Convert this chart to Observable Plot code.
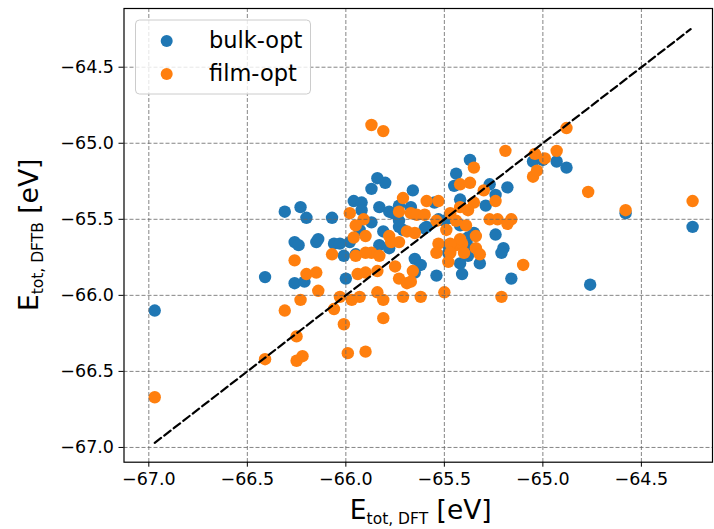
<!DOCTYPE html>
<html>
<head>
<meta charset="utf-8">
<script src="https://cdn.jsdelivr.net/npm/d3@7"></script>
<script src="https://cdn.jsdelivr.net/npm/@observablehq/plot@0.6"></script>
<style>
  html, body { margin: 0; padding: 0; background: #fff; }
  #chart { width: 714px; height: 529px; }
  svg { font-family: "DejaVu Sans", sans-serif; }
</style>
</head>
<body>
<div id="chart"></div>
<script>
// ---- data ----
const seriesNames = ["bulk-opt", "film-opt"];
const seriesColors = ["#1f77b4", "#ff7f0e"];

const bulkX = [-66.97,-66.41,-66.31,-66.23,-66.20,-66.07,-65.96,-65.92,-66.26,-66.24,-66.15,-66.14,-66.06,-66.03,-66.01,-66.26,-66.21,-66.00,-65.87,-65.84,-65.80,-65.66,-65.83,-65.78,-65.73,-65.87,-65.73,-65.81,-65.93,-65.76,-65.71,-65.67,-65.65,-65.62,-65.54,-65.98,-65.95,-65.92,-65.59,-65.47,-65.48,-65.53,-65.78,-65.83,-65.55,-65.44,-65.37,-65.45,-65.42,-65.27,-65.24,-65.18,-65.29,-65.05,-65.00,-64.93,-64.88,-64.58,-64.24,-65.50,-65.60,-65.42,-65.35,-65.24,-65.65,-65.48,-65.42,-65.41,-65.32,-65.38,-65.20,-65.21,-65.16,-64.76,-65.38,-65.38,-65.73];
const bulkY = [-66.10,-65.88,-65.45,-65.42,-65.49,-65.49,-65.38,-65.39,-65.65,-65.67,-65.65,-65.63,-65.66,-65.66,-65.74,-65.92,-65.91,-65.89,-65.30,-65.23,-65.26,-65.31,-65.42,-65.45,-65.41,-65.52,-65.55,-65.58,-65.57,-65.46,-65.57,-65.42,-65.76,-65.80,-65.87,-65.65,-65.73,-65.44,-65.55,-65.49,-65.67,-65.50,-65.69,-65.67,-65.39,-65.20,-65.11,-65.28,-65.37,-65.27,-65.34,-65.29,-65.41,-65.12,-65.11,-65.12,-65.16,-65.46,-65.55,-65.51,-65.56,-65.54,-65.59,-65.60,-65.85,-65.72,-65.79,-65.86,-65.79,-65.74,-65.69,-65.72,-65.89,-65.93,-65.68,-65.62,-65.51];

const filmX = [-66.97,-66.41,-66.31,-66.26,-66.20,-66.15,-66.14,-66.23,-66.25,-66.25,-66.22,-66.07,-66.06,-66.03,-66.01,-65.99,-65.90,-65.96,-65.95,-65.94,-65.90,-65.87,-65.83,-65.84,-65.97,-65.93,-65.84,-65.81,-65.81,-65.75,-65.73,-65.69,-65.71,-65.66,-65.90,-65.78,-65.73,-65.69,-65.65,-65.87,-65.81,-65.71,-65.73,-65.98,-65.91,-65.95,-65.67,-65.19,-64.88,-65.04,-64.99,-64.93,-65.05,-65.03,-65.35,-65.42,-65.37,-65.30,-65.59,-65.53,-65.24,-65.42,-65.35,-65.38,-65.47,-64.77,-64.58,-64.24,-65.27,-65.23,-65.16,-65.18,-65.64,-65.60,-65.54,-65.44,-65.49,-65.34,-65.62,-65.50,-65.21,-65.10,-65.67,-65.53,-65.54,-65.44,-65.41,-65.40,-65.34,-65.32,-65.42,-65.39,-65.47,-65.90,-65.77,-65.47,-65.48];
const filmY = [-66.67,-66.42,-66.10,-65.77,-65.86,-65.85,-65.97,-66.03,-66.27,-66.43,-66.40,-65.73,-66.09,-66.01,-66.19,-66.38,-66.37,-65.62,-65.74,-65.86,-65.85,-65.72,-65.74,-65.84,-66.03,-66.01,-65.98,-66.03,-66.15,-65.81,-65.89,-65.92,-66.01,-65.84,-65.61,-65.61,-65.65,-65.58,-65.59,-64.88,-64.92,-65.36,-65.45,-65.46,-65.50,-65.54,-65.46,-65.05,-64.90,-65.07,-65.10,-65.05,-65.22,-65.18,-65.16,-65.27,-65.26,-65.31,-65.38,-65.38,-65.38,-65.42,-65.39,-65.44,-65.46,-65.32,-65.44,-65.38,-65.50,-65.50,-65.50,-65.53,-65.47,-65.47,-65.51,-65.51,-65.57,-65.61,-66.01,-65.98,-66.01,-65.80,-65.91,-65.66,-65.72,-65.67,-65.66,-65.72,-65.69,-65.73,-65.63,-65.54,-65.66,-65.72,-65.65,-65.72,-65.78];

const diagLine = [-66.97, -64.25];              // y = x reference line, from min to max DFT energy
const xTicks = [-67.0, -66.5, -66.0, -65.5, -65.0, -64.5];
const yTicks = [-67.0, -66.5, -66.0, -65.5, -65.0, -64.5];
const xDomain = [-67.126, -64.139];
const yDomain = [-67.097, -64.114];

// ---- build tables ----
const bulk = bulkX.map((x, i) => ({x, y: bulkY[i], s: seriesNames[0]}));
const film = filmX.map((x, i) => ({x, y: filmY[i], s: seriesNames[1]}));
const fmt = d3.format(".1f");

const W = 714, H = 529;
const mL = 123.5, mR = 2, mT = 8, mB = 67.3;

const plot = Plot.plot({
  width: W, height: H,
  marginLeft: mL, marginRight: mR, marginTop: mT, marginBottom: mB,
  style: {fontFamily: "DejaVu Sans, sans-serif", fontSize: "17.5px", color: "#000", background: "#fff"},
  x: {domain: xDomain, ticks: xTicks},
  y: {domain: yDomain, ticks: yTicks},
  marks: [
    Plot.dot(bulk, {x: "x", y: "y", r: 6.2, fill: seriesColors[0], stroke: "none"}),
    Plot.dot(film, {x: "x", y: "y", r: 6.2, fill: seriesColors[1], stroke: "none"}),
    Plot.gridX(xTicks, {stroke: "#666", strokeOpacity: 0.8, strokeWidth: 1, strokeDasharray: "4,2"}),
    Plot.gridY(yTicks, {stroke: "#666", strokeOpacity: 0.8, strokeWidth: 1, strokeDasharray: "4,2"}),
    Plot.line(diagLine, {x: d => d, y: d => d, stroke: "#000", strokeWidth: 2.2, strokeDasharray: "8,4"}),
    Plot.frame({stroke: "#000", strokeWidth: 1.2}),
    Plot.axisX(xTicks, {tickFormat: fmt, tickSize: 5, tickPadding: 5, fontSize: 17.5, label: null}),
    Plot.axisY(yTicks, {tickFormat: fmt, tickSize: 5, tickPadding: 5, fontSize: 17.5, label: null})
  ]
});
document.getElementById("chart").appendChild(plot);

// ---- axis titles with subscripts, and legend ----
const svg = d3.select(plot);
const xl = svg.append("text")
  .attr("x", (mL + W - mR) / 2 + 3).attr("y", 519)
  .attr("text-anchor", "middle")
  .style("font-size", "26.5px").style("fill", "#000");
xl.append("tspan").text("E");
xl.append("tspan").attr("dy", 5).style("font-size", "15.5px").text("tot, DFT");
xl.append("tspan").attr("dy", -5).text(" [eV]");

const yl = svg.append("text")
  .attr("transform", `translate(38,${(mT + H - mB) / 2}) rotate(-90)`)
  .attr("text-anchor", "middle")
  .style("font-size", "26.5px").style("fill", "#000");
yl.append("tspan").text("E");
yl.append("tspan").attr("dy", 5).style("font-size", "15.5px").text("tot, DFTB");
yl.append("tspan").attr("dy", -5).text(" [eV]");

const lg = svg.append("g");
lg.append("rect").attr("x", 135.5).attr("y", 20).attr("width", 175).attr("height", 74)
  .attr("rx", 4).attr("fill", "#fff").attr("fill-opacity", 0.8)
  .attr("stroke", "#cccccc").attr("stroke-width", 1);
seriesNames.forEach((name, i) => {
  const cy = 41 + i * 33;
  lg.append("circle").attr("cx", 166.7).attr("cy", cy).attr("r", 6).attr("fill", seriesColors[i]);
  lg.append("text").attr("x", 209).attr("y", cy + 7)
    .attr("text-anchor", "start")
    .style("font-size", "22.5px").style("fill", "#000").text(name);
});
</script>
</body>
</html>
